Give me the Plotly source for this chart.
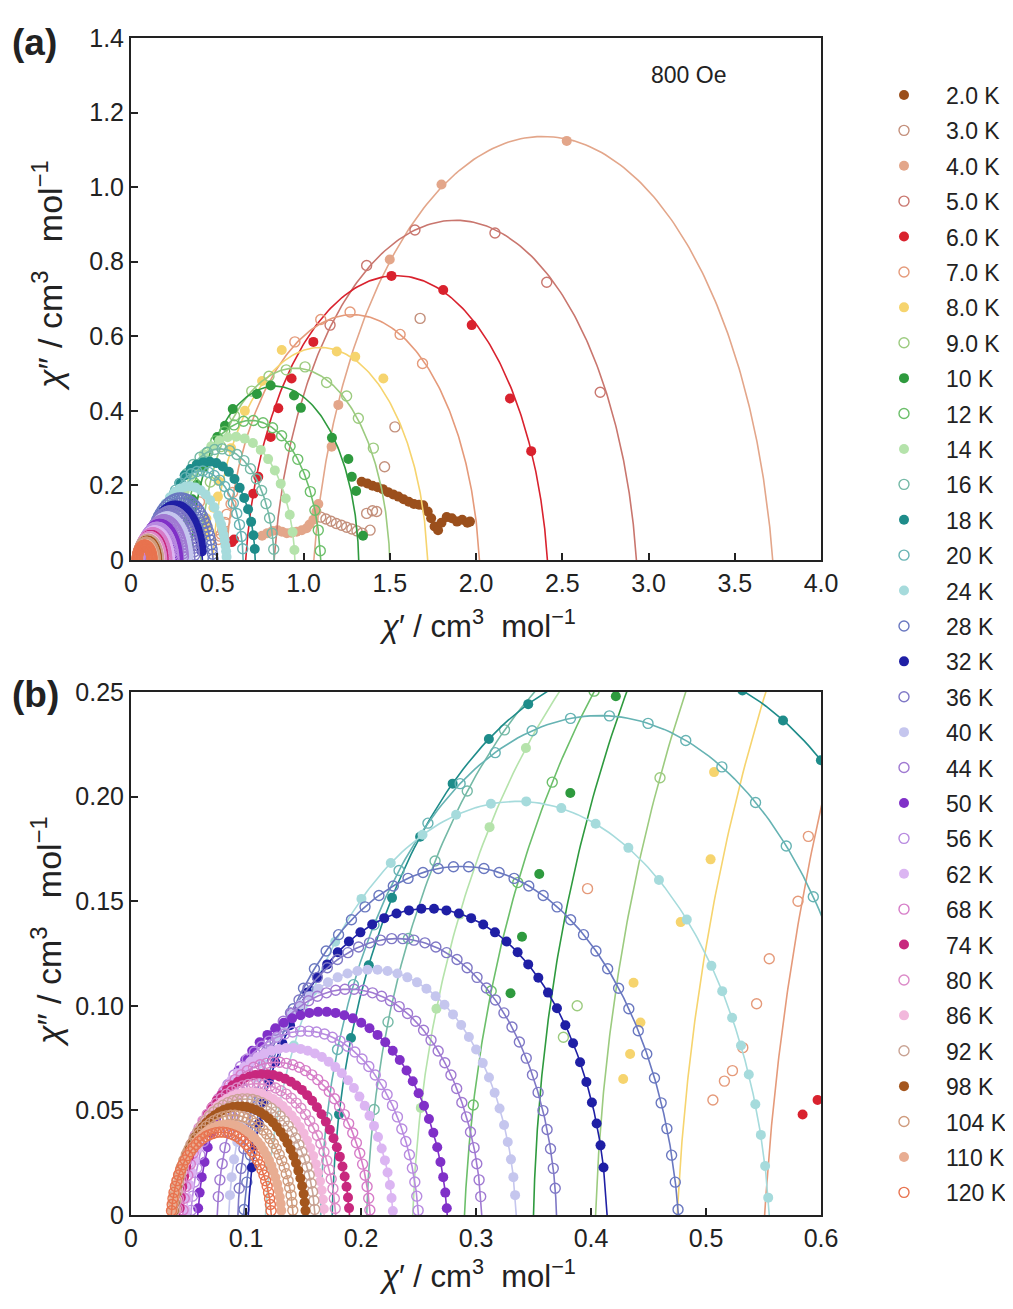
import numpy as np
import plotly.graph_objects as go

# ---------------- categories / styles ----------------
temps = ["2.0 K", "3.0 K", "4.0 K", "5.0 K", "6.0 K", "7.0 K", "8.0 K", "9.0 K",
         "10 K", "12 K", "14 K", "16 K", "18 K", "20 K", "24 K", "28 K",
         "32 K", "36 K", "40 K", "44 K", "50 K", "56 K", "62 K", "68 K",
         "74 K", "80 K", "86 K", "92 K", "98 K", "104 K", "110 K", "120 K"]
colors = ["#9b4f1c", "#c4907c", "#e3a68a", "#c9766e", "#d9222e", "#e59a7a", "#f6d46e", "#9ccb7f",
          "#2e9a3e", "#6cbf6a", "#b5e3ab", "#74b9a6", "#1e8c8a", "#66b3b3", "#a6dbdc", "#6a78c0",
          "#1f1fa5", "#7f78c6", "#c5c6ee", "#a07ad2", "#8030c8", "#b88be0", "#dbb5f2", "#d67cc8",
          "#c8287e", "#dc8ac8", "#f2b8dc", "#c9a394", "#a4561e", "#cf9b7d", "#e8ad92", "#e8734f"]
filled = [i % 2 == 0 for i in range(32)]

# ---------------- data (chi', chi'') ----------------
x_2K = [1.337, 1.37, 1.40, 1.43, 1.46, 1.49, 1.52, 1.55, 1.58, 1.61, 1.64, 1.67, 1.694, 1.72, 1.74, 1.76, 1.78, 1.80, 1.83, 1.86, 1.89, 1.92, 1.95, 1.965]
y_2K = [0.210, 0.205, 0.199, 0.195, 0.190, 0.182, 0.176, 0.170, 0.163, 0.156, 0.150, 0.148, 0.147, 0.130, 0.112, 0.090, 0.080, 0.100, 0.115, 0.112, 0.103, 0.108, 0.100, 0.103]
x_3K = [1.10, 1.13, 1.16, 1.19, 1.22, 1.25, 1.28, 1.31, 1.34, 1.366, 1.386, 1.40, 1.424, 1.47, 1.53, 1.676]
y_3K = [0.115, 0.110, 0.104, 0.098, 0.093, 0.088, 0.083, 0.078, 0.072, 0.125, 0.080, 0.132, 0.130, 0.250, 0.357, 0.648]
x_4K = [0.76, 0.79, 0.82, 0.85, 0.875, 0.903, 0.93, 0.96, 0.99, 1.018, 1.035, 1.057, 1.075, 1.086, 1.163, 1.202, 1.50, 1.80, 2.526]
y_4K = [0.065, 0.072, 0.078, 0.080, 0.076, 0.072, 0.073, 0.076, 0.080, 0.085, 0.095, 0.108, 0.130, 0.150, 0.304, 0.416, 0.806, 1.007, 1.124]
x_5K = [1.154, 1.366, 1.646, 2.11, 2.41, 2.72]
y_5K = [0.630, 0.790, 0.885, 0.877, 0.745, 0.450]
x_6K = [0.584, 0.597, 0.709, 0.738, 0.81, 0.854, 0.931, 1.057, 1.51, 1.81, 1.975, 2.197, 2.32]
y_6K = [0.048, 0.055, 0.178, 0.223, 0.330, 0.407, 0.487, 0.585, 0.762, 0.724, 0.630, 0.433, 0.292]
x_7K = [0.397, 0.506, 0.516, 0.523, 0.532, 0.544, 0.555, 0.58, 0.589, 0.95, 1.10, 1.27, 1.56, 1.69]
y_7K = [0.156, 0.055, 0.064, 0.069, 0.080, 0.101, 0.1225, 0.150, 0.181, 0.585, 0.645, 0.665, 0.605, 0.527]
x_8K = [0.428, 0.434, 0.437, 0.443, 0.478, 0.504, 0.507, 0.58, 0.66, 0.76, 0.874, 1.193, 1.30, 1.463]
y_8K = [0.065, 0.077, 0.111, 0.092, 0.140, 0.170, 0.2117, 0.30, 0.40, 0.48, 0.563, 0.559, 0.545, 0.487]
x_9K = [0.376, 0.388, 0.46, 0.52, 0.60, 0.70, 0.80, 0.90, 1.009, 1.134, 1.25, 1.318, 1.405]
y_9K = [0.085, 0.100, 0.209, 0.304, 0.387, 0.453, 0.493, 0.510, 0.518, 0.476, 0.440, 0.380, 0.300]
x_10K = [0.330, 0.340, 0.355, 0.382, 0.4216, 0.50, 0.545, 0.59, 0.73, 0.81, 0.945, 0.985, 1.165, 1.26, 1.28, 1.305, 1.345]
y_10K = [0.106, 0.133, 0.163, 0.2017, 0.248, 0.33, 0.36, 0.405, 0.445, 0.468, 0.441, 0.408, 0.328, 0.271, 0.223, 0.185, 0.065]
x_12K = [1.0974, 1.0856, 1.0662, 1.0395, 1.0062, .9669, .9222, .8731, .8205, .7655, .7092, .6525, .5967, .5428, .4918, .4448, .4027, .3663, .3363, .3132, .2976]
y_12K = [.0247, .0801, .1333, .1834, .2293, .2700, .3049, .3333, .3545, .3682, .3742, .3722, .3623, .3448, .3200, .2883, .2504, .2069, .1589, .1071, .0526]
x_14K = [.9473, .9370, .9201, .8970, .8680, .8338, .7950, .7523, .7066, .6588, .6098, .5606, .5121, .4652, .4209, .3800, .3434, .3118, .2857, .2656, .2520]
y_14K = [.0270, .0751, .1214, .1650, .2048, .2403, .2706, .2953, .3137, .3256, .3308, .3291, .3205, .3053, .2837, .2561, .2232, .1854, .1436, .0986, .0512]
x_16K = [.8274, .8183, .8033, .7828, .7572, .7269, .6925, .6547, .6142, .5718, .5284, .4848, .4418, .4003, .3610, .3248, .2924, .2644, .2412, .2235, .2114]
y_16K = [.0289, .0715, .1126, .1511, .1864, .2178, .2447, .2665, .2829, .2934, .2980, .2965, .2889, .2754, .2563, .2319, .2027, .1692, .1322, .0923, .0504]
x_18K = [.7175, .7096, .6965, .6787, .6563, .6299, .5999, .5670, .5317, .4948, .4570, .4190, .3816, .3454, .3112, .2797, .2514, .2270, .2068, .1913, .1809]
y_18K = [.0293, .0665, .1023, .1359, .1666, .1940, .2174, .2364, .2507, .2599, .2638, .2625, .2559, .2442, .2275, .2062, .1808, .1516, .1194, .0846, .0481]
x_20K = [.6477, .6406, .6290, .6131, .5933, .5698, .5431, .5138, .4824, .4496, .4160, .3822, .3488, .3167, .2862, .2582, .2331, .2113, .1934, .1796, .1703]
y_20K = [.0300, .0630, .0948, .1247, .1521, .1764, .1972, .2142, .2268, .2350, .2386, .2374, .2315, .2210, .2062, .1873, .1647, .1387, .1101, .0791, .0466]
x_24K = [.5541, .5477, .5372, .5227, .5047, .4833, .4591, .4325, .4040, .3742, .3437, .3130, .2827, .2535, .2259, .2004, .1776, .1579, .1416, .1291, .1206, .5514, .5429, .5304, .5141]
y_24K = [.0083, .0383, .0672, .0943, .1191, .1412, .1601, .1755, .1870, .1945, .1977, .1966, .1913, .1818, .1683, .1511, .1306, .1070, .0810, .0529, .0234, .0234, .0529, .0810, .1070]
x_28K = [.4757, .4701, .4610, .4485, .4329, .4145, .3935, .3705, .3459, .3201, .2936, .2671, .2409, .2156, .1917, .1697, .1500, .1329, .1188, .1080, .1007,
         .0983, .1039, .1130, .1255, .1411, .1595, .1805, .2035, .2281, .2539, .2804, .3069, .3331, .3584, .3823, .4043, .4240, .4411, .4552, .4660, .4733]
y_28K = [.0026, .0286, .0536, .0770, .0986, .1177, .1340, .1473, .1573, .1637, .1665, .1656, .1609, .1527, .1411, .1262, .1084, .0881, .0655, .0413, .0157,
         .0026, .0286, .0536, .0770, .0986, .1177, .1340, .1473, .1573, .1637, .1665, .1656, .1609, .1527, .1411, .1262, .1084, .0881, .0655, .0413, .0157]
x_32K = [.4083, .4008, .3905, .3777, .3626, .3454, .3265, .3063, .2851, .2635, .2417, .2202, .1995, .1798, .1618, .1456, .1316, .1200, .1111, .1051,
         .1077, .1152, .1255, .1383, .1534, .1706, .1895, .2097, .2309, .2525, .2743, .2958, .3165, .3362, .3542, .3704, .3844, .3960, .4049, .4109]
y_32K = [.0333, .0538, .0730, .0907, .1063, .1198, .1307, .1389, .1441, .1464, .1456, .1419, .1351, .1256, .1134, .0988, .0821, .0636, .0437, .0227,
         .0333, .0538, .0730, .0907, .1063, .1198, .1307, .1389, .1441, .1464, .1456, .1419, .1351, .1256, .1134, .0988, .0821, .0636, .0437, .0227]
x_36K = [.3689, .3648, .3582, .3491, .3377, .3243, .3091, .2923, .2744, .2556, .2363, .2170, .1979, .1795, .1621, .1461, .1317, .1193, .1090, .1012, .0958,
         .0941, .0982, .1048, .1139, .1253, .1387, .1539, .1707, .1886, .2074, .2267, .2460, .2651, .2835, .3009, .3169, .3313, .3437, .3540, .3618, .3672]
y_36K = [.0128, .0317, .0499, .0670, .0827, .0966, .1085, .1182, .1254, .1301, .1321, .1314, .1281, .1221, .1136, .1028, .0899, .0750, .0586, .0409, .0223,
         .0128, .0317, .0499, .0670, .0827, .0966, .1085, .1182, .1254, .1301, .1321, .1314, .1281, .1221, .1136, .1028, .0899, .0750, .0586, .0409, .0223]
x_40K = [.3340, .3304, .3244, .3162, .3059, .2938, .2800, .2649, .2487, .2317, .2144, .1969, .1797, .1631, .1474, .1329, .1199, .1087, .0995, .0924, .0875,
         .0860, .0896, .0956, .1038, .1141, .1262, .1400, .1551, .1713, .1883, .2056, .2231, .2403, .2569, .2726, .2871, .3001, .3113, .3205, .3276, .3325]
y_40K = [.0095, .0266, .0430, .0584, .0726, .0851, .0959, .1046, .1112, .1154, .1172, .1166, .1136, .1082, .1005, .0908, .0791, .0657, .0509, .0349, .0181,
         .0095, .0266, .0430, .0584, .0726, .0851, .0959, .1046, .1112, .1154, .1172, .1166, .1136, .1082, .1005, .0908, .0791, .0657, .0509, .0349, .0181]
x_44K = [.3041, .3007, .2952, .2877, .2782, .2671, .2544, .2405, .2256, .2100, .1940, .1780, .1621, .1468, .1324, .1191, .1071, .0968, .0883, .0817, .0773,
         .0759, .0793, .0848, .0923, .1018, .1129, .1256, .1395, .1544, .1700, .1860, .2020, .2179, .2332, .2476, .2609, .2729, .2832, .2917, .2983, .3027]
y_44K = [.0088, .0245, .0397, .0538, .0669, .0784, .0883, .0963, .1024, .1062, .1079, .1074, .1046, .0996, .0926, .0836, .0728, .0605, .0469, .0322, .0168,
         .0088, .0245, .0397, .0538, .0669, .0784, .0883, .0963, .1024, .1062, .1079, .1074, .1046, .0996, .0926, .0836, .0728, .0605, .0469, .0322, .0168]
x_50K = [.2746, .2715, .2663, .2591, .2501, .2396, .2276, .2144, .2002, .1855, .1703, .1551, .1401, .1256, .1119, .0993, .0880, .0782, .0701, .0639, .0597,
         .0584, .0615, .0667, .0739, .0829, .0934, .1054, .1186, .1328, .1475, .1627, .1779, .1929, .2074, .2211, .2337, .2450, .2548, .2629, .2691, .2733]
y_50K = [.0032, .0181, .0324, .0459, .0582, .0691, .0785, .0861, .0919, .0955, .0971, .0966, .0940, .0893, .0826, .0741, .0639, .0522, .0393, .0253, .0107,
         .0032, .0181, .0324, .0459, .0582, .0691, .0785, .0861, .0919, .0955, .0971, .0966, .0940, .0893, .0826, .0741, .0639, .0522, .0393, .0253, .0107]
x_56K = [.2497, .2468, .2421, .2355, .2274, .2177, .2068, .1947, .1818, .1683, .1545, .1406, .1269, .1137, .1011, .0896, .0793, .0703, .0630, .0573, .0535,
         .0523, .0552, .0599, .0665, .0746, .0843, .0952, .1073, .1202, .1337, .1475, .1614, .1751, .1883, .2009, .2124, .2227, .2317, .2390, .2447, .2485]
y_56K = [.0022, .0158, .0288, .0411, .0524, .0624, .0710, .0779, .0831, .0865, .0879, .0875, .0850, .0807, .0746, .0669, .0576, .0469, .0351, .0224, .0090,
         .0022, .0158, .0288, .0411, .0524, .0624, .0710, .0779, .0831, .0865, .0879, .0875, .0850, .0807, .0746, .0669, .0576, .0469, .0351, .0224, .0090]
x_62K = [.2277, .2251, .2208, .2148, .2074, .1986, .1887, .1777, .1660, .1537, .1412, .1285, .1161, .1041, .0927, .0822, .0728, .0647, .0580, .0529, .0494,
         .0483, .0509, .0552, .0612, .0686, .0774, .0873, .0983, .1100, .1223, .1348, .1475, .1599, .1719, .1833, .1938, .2032, .2113, .2180, .2231, .2266]
y_62K = [.0019, .0143, .0261, .0373, .0475, .0566, .0644, .0707, .0755, .0785, .0798, .0794, .0772, .0733, .0678, .0607, .0522, .0426, .0318, .0203, .0081,
         .0019, .0143, .0261, .0373, .0475, .0566, .0644, .0707, .0755, .0785, .0798, .0794, .0772, .0733, .0678, .0607, .0522, .0426, .0318, .0203, .0081]
x_68K = [.2077, .2053, .2014, .1960, .1893, .1814, .1724, .1624, .1518, .1407, .1294, .1179, .1067, .0958, .0855, .0760, .0675, .0602, .0541, .0494, .0463,
         .0453, .0477, .0516, .0570, .0637, .0716, .0806, .0906, .1012, .1123, .1236, .1351, .1463, .1572, .1675, .1770, .1855, .1928, .1989, .2036, .2067]
y_68K = [.0024, .0136, .0243, .0345, .0437, .0519, .0590, .0647, .0690, .0718, .0730, .0725, .0706, .0670, .0620, .0556, .0480, .0392, .0295, .0190, .0080,
         .0024, .0136, .0243, .0345, .0437, .0519, .0590, .0647, .0690, .0718, .0730, .0725, .0706, .0670, .0620, .0556, .0480, .0392, .0295, .0190, .0080]
x_74K = [.1896, .1874, .1839, .1790, .1729, .1657, .1575, .1486, .1390, .1289, .1186, .1082, .0980, .0882, .0788, .0703, .0626, .0559, .0504, .0462, .0433,
         .0424, .0446, .0481, .0530, .0591, .0663, .0745, .0834, .0930, .1031, .1134, .1238, .1340, .1438, .1532, .1617, .1694, .1761, .1816, .1858, .1887]
y_74K = [.0033, .0135, .0232, .0324, .0408, .0482, .0546, .0598, .0637, .0662, .0673, .0669, .0651, .0619, .0573, .0515, .0446, .0367, .0279, .0184, .0084,
         .0033, .0135, .0232, .0324, .0408, .0482, .0546, .0598, .0637, .0662, .0673, .0669, .0651, .0619, .0573, .0515, .0446, .0367, .0279, .0184, .0084]
x_80K = [.1776, .1756, .1723, .1678, .1621, .1554, .1478, .1394, .1304, .1210, .1114, .1018, .0922, .0830, .0743, .0663, .0592, .0529, .0478, .0439, .0412,
         .0404, .0424, .0457, .0502, .0559, .0626, .0702, .0786, .0876, .0970, .1066, .1162, .1258, .1350, .1437, .1517, .1588, .1651, .1702, .1741, .1768]
y_80K = [.0031, .0126, .0217, .0302, .0380, .0450, .0510, .0558, .0594, .0617, .0628, .0624, .0607, .0578, .0535, .0481, .0416, .0342, .0260, .0172, .0079,
         .0031, .0126, .0217, .0302, .0380, .0450, .0510, .0558, .0594, .0617, .0628, .0624, .0607, .0578, .0535, .0481, .0416, .0342, .0260, .0172, .0079]
x_86K = [.1677, .1658, .1627, .1585, .1531, .1469, .1397, .1319, .1235, .1147, .1058, .0967, .0878, .0792, .0711, .0636, .0569, .0511, .0463, .0426, .0401,
         .0393, .0412, .0443, .0485, .0539, .0601, .0673, .0751, .0835, .0923, .1012, .1103, .1192, .1278, .1359, .1434, .1501, .1559, .1607, .1644, .1669]
y_86K = [.0029, .0118, .0203, .0282, .0356, .0421, .0476, .0521, .0555, .0577, .0587, .0583, .0568, .0540, .0500, .0450, .0389, .0320, .0243, .0161, .0074,
         .0029, .0118, .0203, .0282, .0356, .0421, .0476, .0521, .0555, .0577, .0587, .0583, .0568, .0540, .0500, .0450, .0389, .0320, .0243, .0161, .0074]
x_92K = [.1597, .1579, .1550, .1510, .1460, .1400, .1333, .1259, .1179, .1096, .1011, .0926, .0842, .0760, .0683, .0613, .0549, .0494, .0449, .0414, .0390,
         .0383, .0401, .0430, .0470, .0520, .0580, .0647, .0721, .0801, .0884, .0969, .1054, .1138, .1220, .1297, .1367, .1431, .1486, .1531, .1566, .1590]
y_92K = [.0027, .0111, .0191, .0267, .0336, .0398, .0450, .0493, .0525, .0546, .0555, .0552, .0537, .0510, .0473, .0425, .0368, .0302, .0230, .0152, .0069,
         .0027, .0111, .0191, .0267, .0336, .0398, .0450, .0493, .0525, .0546, .0555, .0552, .0537, .0510, .0473, .0425, .0368, .0302, .0230, .0152, .0069]
x_98K = [.1517, .1501, .1473, .1435, .1388, .1332, .1268, .1198, .1124, .1045, .0965, .0885, .0805, .0728, .0656, .0589, .0529, .0477, .0435, .0402, .0380,
         .0373, .0389, .0417, .0455, .0502, .0558, .0622, .0692, .0766, .0845, .0925, .1005, .1085, .1162, .1234, .1301, .1361, .1413, .1455, .1488, .1510]
y_98K = [.0021, .0100, .0176, .0247, .0313, .0371, .0420, .0461, .0491, .0510, .0519, .0516, .0502, .0477, .0442, .0396, .0343, .0281, .0212, .0139, .0061,
         .0021, .0100, .0176, .0247, .0313, .0371, .0420, .0461, .0491, .0510, .0519, .0516, .0502, .0477, .0442, .0396, .0343, .0281, .0212, .0139, .0061]
x_104K = [.1407, .1392, .1366, .1332, .1289, .1238, .1180, .1116, .1048, .0976, .0903, .0830, .0758, .0688, .0621, .0561, .0506, .0459, .0420, .0390, .0370,
          .0363, .0378, .0404, .0438, .0481, .0532, .0590, .0654, .0722, .0794, .0867, .0940, .1012, .1082, .1149, .1209, .1264, .1311, .1350, .1380, .1400]
y_104K = [.0023, .0095, .0164, .0229, .0289, .0342, .0387, .0424, .0451, .0469, .0477, .0474, .0461, .0439, .0406, .0365, .0316, .0260, .0197, .0130, .0060,
          .0023, .0095, .0164, .0229, .0289, .0342, .0387, .0424, .0451, .0469, .0477, .0474, .0461, .0439, .0406, .0365, .0316, .0260, .0197, .0130, .0060]
x_110K = [.1307, .1294, .1271, .1239, .1200, .1154, .1102, .1044, .0982, .0918, .0852, .0785, .0720, .0656, .0596, .0541, .0492, .0449, .0414, .0387, .0368,
          .0363, .0376, .0399, .0431, .0470, .0516, .0568, .0626, .0688, .0752, .0818, .0885, .0950, .1014, .1074, .1129, .1178, .1221, .1256, .1283, .1302]
y_110K = [.0021, .0086, .0149, .0208, .0262, .0309, .0350, .0384, .0409, .0425, .0432, .0429, .0418, .0397, .0368, .0331, .0286, .0235, .0179, .0118, .0054,
          .0021, .0086, .0149, .0208, .0262, .0309, .0350, .0384, .0409, .0425, .0432, .0429, .0418, .0397, .0368, .0331, .0286, .0235, .0179, .0118, .0054]
x_120K = [.1218, .1205, .1184, .1156, .1120, .1077, .1029, .0977, .0920, .0861, .0800, .0739, .0679, .0621, .0566, .0516, .0471, .0431, .0399, .0374, .0358,
          .0352, .0365, .0386, .0414, .0450, .0493, .0541, .0593, .0650, .0709, .0770, .0831, .0891, .0949, .1004, .1054, .1099, .1139, .1171, .1196, .1212]
y_120K = [.0020, .0079, .0137, .0191, .0240, .0284, .0321, .0352, .0375, .0389, .0396, .0394, .0383, .0364, .0337, .0303, .0263, .0216, .0164, .0108, .0050,
          .0020, .0079, .0137, .0191, .0240, .0284, .0321, .0352, .0375, .0389, .0396, .0394, .0383, .0364, .0337, .0303, .0263, .0216, .0164, .0108, .0050]

# generalized Debye fit parameters (chi_S, chi_T, alpha); none for 2 K and 3 K
chi_s = [None, None, 1.06, 0.83, 0.665, 0.551, 0.475, 0.404, 0.350, 0.290, 0.245, 0.205, 0.175, 0.165, 0.117, 0.098,
         0.102, 0.093, 0.085, 0.075, 0.058, 0.052, 0.048, 0.045, 0.042, 0.040, 0.039, 0.038, 0.037, 0.036, 0.036, 0.035]
chi_t = [None, None, 3.72, 2.93, 2.414, 2.02, 1.72, 1.50, 1.32, 1.10, 0.95, 0.83, 0.72, 0.65, 0.555, 0.476,
         0.414, 0.370, 0.335, 0.305, 0.275, 0.250, 0.228, 0.208, 0.190, 0.178, 0.168, 0.160, 0.152, 0.141, 0.131, 0.122]
alpha = [None, None, 0.10, 0.09, 0.087, 0.07, 0.056, 0.04, 0.025, 0.05, 0.04, 0.03, 0.02, 0.01, 0.065, 0.08,
         0.04, 0.03, 0.04, 0.04, 0.07, 0.075, 0.075, 0.07, 0.06, 0.06, 0.06, 0.06, 0.065, 0.06, 0.06, 0.06]

# tick labels
a_xticks = [0, 0.5, 1.0, 1.5, 2.0, 2.5, 3.0, 3.5, 4.0]
a_xtext = ["0", "0.5", "1.0", "1.5", "2.0", "2.5", "3.0", "3.5", "4.0"]
a_yticks = [0, 0.2, 0.4, 0.6, 0.8, 1.0, 1.2, 1.4]
a_ytext = ["0", "0.2", "0.4", "0.6", "0.8", "1.0", "1.2", "1.4"]
b_xticks = [0, 0.1, 0.2, 0.3, 0.4, 0.5, 0.6]
b_xtext = ["0", "0.1", "0.2", "0.3", "0.4", "0.5", "0.6"]
b_yticks = [0, 0.05, 0.10, 0.15, 0.20, 0.25]
b_ytext = ["0", "0.05", "0.10", "0.15", "0.20", "0.25"]

xs = [x_2K, x_3K, x_4K, x_5K, x_6K, x_7K, x_8K, x_9K, x_10K, x_12K, x_14K, x_16K, x_18K, x_20K, x_24K, x_28K,
      x_32K, x_36K, x_40K, x_44K, x_50K, x_56K, x_62K, x_68K, x_74K, x_80K, x_86K, x_92K, x_98K, x_104K, x_110K, x_120K]
ys = [y_2K, y_3K, y_4K, y_5K, y_6K, y_7K, y_8K, y_9K, y_10K, y_12K, y_14K, y_16K, y_18K, y_20K, y_24K, y_28K,
      y_32K, y_36K, y_40K, y_44K, y_50K, y_56K, y_62K, y_68K, y_74K, y_80K, y_86K, y_92K, y_98K, y_104K, y_110K, y_120K]

wt = np.logspace(-6, 6, 1200)


def cole_cole(cs, ct, a):
    s = np.sin(np.pi * a / 2)
    c = np.cos(np.pi * a / 2)
    p = wt ** (1 - a)
    den = 1 + 2 * p * s + p ** 2
    return cs + (ct - cs) * (1 + p * s) / den, (ct - cs) * p * c / den


FONT = "Arial, Liberation Sans, Helvetica, sans-serif"
W, H = 1013, 1309
OFF = 8  # page body margin of the html document
fig = go.Figure()

for i in range(32):
    sym = "circle" if filled[i] else "circle-open"
    mk = dict(symbol=sym, size=10, color=colors[i],
              line=dict(width=0 if filled[i] else 1.4, color=colors[i]))
    for ax, (xa, ya) in enumerate([("x", "y"), ("x2", "y2")]):
        fig.add_trace(go.Scatter(x=xs[i], y=ys[i], mode="markers", marker=mk, name=temps[i],
                                 legendgroup=temps[i], showlegend=(ax == 0), xaxis=xa, yaxis=ya))
        if chi_s[i] is not None:
            fx, fy = cole_cole(chi_s[i], chi_t[i], alpha[i])
            fig.add_trace(go.Scatter(x=fx, y=fy, mode="lines", line=dict(color=colors[i], width=1.6),
                                     legendgroup=temps[i], showlegend=False, hoverinfo="skip",
                                     xaxis=xa, yaxis=ya))


def px_x(p):
    return (p - OFF) / W


def px_y(p):
    return (H - (p - OFF)) / H


axis_common = dict(showline=True, linecolor="#222", linewidth=2, mirror=True, ticks="inside",
                   ticklen=7, tickwidth=1.6, tickcolor="#222", showgrid=False, zeroline=False,
                   automargin=False, tickfont=dict(family=FONT, size=25, color="#222"))

fig.update_layout(
    width=W, height=H, margin=dict(l=0, r=0, t=0, b=0, autoexpand=False),
    paper_bgcolor="white", plot_bgcolor="white",
    xaxis=dict(domain=[px_x(131), px_x(821)], range=[0, 4.0], anchor="y",
               tickvals=a_xticks, ticktext=a_xtext, **axis_common),
    yaxis=dict(domain=[px_y(560), px_y(38)], range=[0, 1.4], anchor="x",
               tickvals=a_yticks, ticktext=a_ytext, **axis_common),
    xaxis2=dict(domain=[px_x(131), px_x(821)], range=[0, 0.6], anchor="y2",
                tickvals=b_xticks, ticktext=b_xtext, **axis_common),
    yaxis2=dict(domain=[px_y(1215), px_y(692)], range=[0, 0.25], anchor="x2",
                tickvals=b_yticks, ticktext=b_ytext, **axis_common),
    legend=dict(x=px_x(862), y=px_y(73.5), xanchor="left", yanchor="top",
                font=dict(family=FONT, size=23, color="#222"), itemwidth=74,
                tracegroupgap=2.5, bgcolor="rgba(0,0,0,0)"),
    showlegend=True,
)

xtitle = "<i>χ</i>′ / cm<sup>3</sup>  mol<sup>−1</sup>"
ytitle = "<i>χ</i>″ / cm<sup>3</sup>&nbsp;&nbsp; mol<sup>−1</sup>"
xfont = dict(family=FONT, size=31, color="#222")
yfont = dict(family=FONT, size=34, color="#222")
ann = [
    dict(text=xtitle, x=px_x(477), y=px_y(624), xref="paper", yref="paper", showarrow=False,
         xanchor="center", yanchor="middle", font=xfont),
    dict(text=xtitle, x=px_x(477), y=px_y(1274), xref="paper", yref="paper", showarrow=False,
         xanchor="center", yanchor="middle", font=xfont),
    dict(text=ytitle, x=px_x(47), y=px_y(276), xref="paper", yref="paper", showarrow=False,
         xanchor="center", yanchor="middle", textangle=-90, font=yfont),
    dict(text=ytitle, x=px_x(47), y=px_y(932), xref="paper", yref="paper", showarrow=False,
         xanchor="center", yanchor="middle", textangle=-90, font=yfont),
    dict(text="<b>(a)</b>", x=px_x(10), y=px_y(42), xref="paper", yref="paper", showarrow=False,
         xanchor="left", yanchor="middle", font=dict(family=FONT, size=37, color="#222")),
    dict(text="<b>(b)</b>", x=px_x(10), y=px_y(694), xref="paper", yref="paper", showarrow=False,
         xanchor="left", yanchor="middle", font=dict(family=FONT, size=37, color="#222")),
    dict(text="800 Oe", x=px_x(688), y=px_y(75), xref="paper", yref="paper", showarrow=False,
         xanchor="center", yanchor="middle", font=dict(family=FONT, size=23, color="#222")),
]
fig.update_layout(annotations=ann)

fig.write_html("out.html")
